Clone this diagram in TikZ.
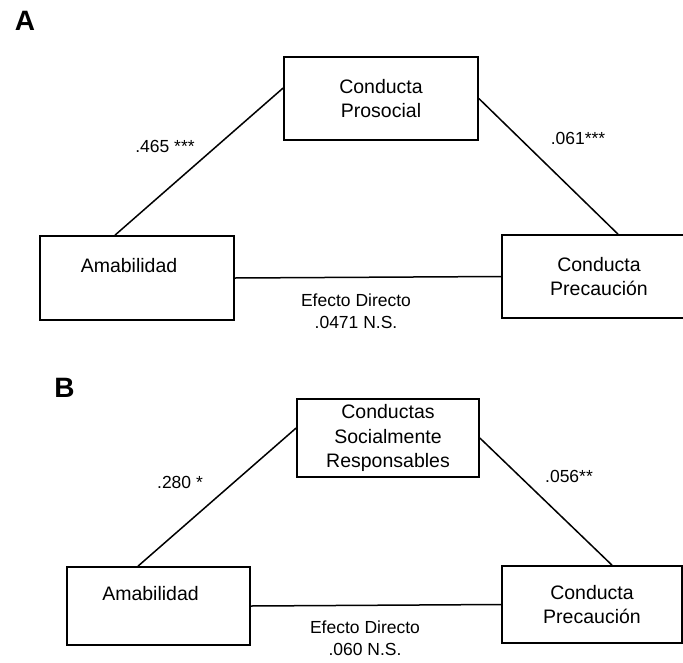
\documentclass[tikz,border=0pt]{standalone}
\usepackage{fontspec}
\setmainfont{Liberation Sans}
\begin{document}
\begin{tikzpicture}[x=1pt, y=-1pt,
  box/.style={draw, line width=1.7pt, rectangle, align=center, inner sep=0pt, font=\fontsize{19.5}{24.3}\selectfont},
  coef/.style={align=center, font=\fontsize{17.5}{22}\selectfont},
  panel/.style={font=\fontsize{28}{30}\selectfont\bfseries},
  link/.style={line width=1.5pt}]
% Set the page size
\path[use as bounding box, clip] (0,0) rectangle (683,662);

% Panel A
\node[panel] (labA) at (25,21) {A};
\node[box, minimum width=194pt, minimum height=83pt] (proA) at (381,98.5) {Conducta\\Prosocial};
\node[box, minimum width=194pt, minimum height=84pt] (amaA) at (137,278) {Amabilidad\hspace*{16pt}\\\mbox{}};
\node[box, minimum width=194pt, minimum height=83pt] (preA) at (599,276.5) {Conducta\\Precaución};
\draw[link] ([xshift=-22pt]amaA.north) -- ([yshift=10.5pt]proA.west);
\draw[link] (proA.east) -- ([xshift=19pt]preA.north);
\draw[link] (amaA.east) -- (preA.west);
\node[coef] (aA) at (165,146) {.465 ***};
\node[coef] (bA) at (578,138) {.061***};
\node[coef] (cA) at (356,311) {Efecto Directo\\.0471 N.S.};

% Panel B
\node[panel] (labB) at (64.5,387.5) {B};
\node[box, minimum width=182pt, minimum height=78pt] (proB) at (388,438) {Conductas\\Socialmente\\Responsables};
\node[box, minimum width=183pt, minimum height=78pt] (amaB) at (158.5,606) {Amabilidad\hspace*{16pt}\\\mbox{}};
\node[box, minimum width=180pt, minimum height=77pt] (preB) at (592,604.5) {Conducta\\Precaución};
\draw[link] ([xshift=-20.5pt]amaB.north) -- ([yshift=10pt]proB.west);
\draw[link] (proB.east) -- ([xshift=20pt]preB.north);
\draw[link] (amaB.east) -- (preB.west);
\node[coef] (aB) at (180,482) {.280 *};
\node[coef] (bB) at (569,476) {.056**};
\node[coef] (cB) at (365,638) {Efecto Directo\\.060 N.S.};
\end{tikzpicture}
\end{document}
